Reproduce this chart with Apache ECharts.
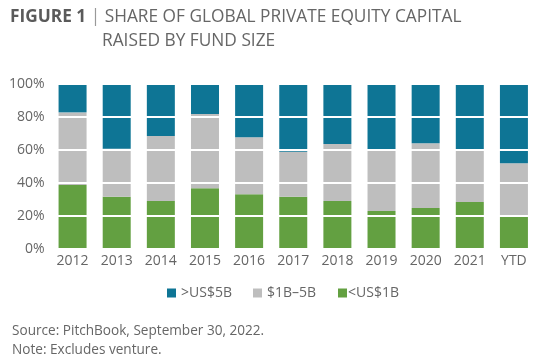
<!DOCTYPE html>
<html><head><meta charset="utf-8">
<script src="https://cdn.jsdelivr.net/npm/echarts@6/dist/echarts.min.js"></script>
<style>html,body{margin:0;padding:0;background:#fff}#c{width:542px;height:364px}</style>
</head><body><div id="c"></div>
<script>
const categories = ['2012','2013','2014','2015','2016','2017','2018','2019','2020','2021','YTD'];
const under1B = [38.8,31.7,29.1,36.8,33.2,31.7,29.1,23.0,24.8,28.5,20.0];
const mid1to5B = [44.0,29.1,39.4,45.0,34.5,27.3,34.5,37.6,39.3,31.3,31.9];
const over5B = [17.2,39.2,31.5,18.2,32.3,41.0,36.4,39.4,35.9,40.2,48.1];
const yTicks = [0,20,40,60,80,100];
const seriesNames = ['>US$5B','$1B\u20135B','<US$1B'];
const colors = {blue:'#0e7595', gray:'#bebebe', green:'#63a041'};
const font = '"Open Sans", "Noto Sans", sans-serif';
const txt = '#666666';

const legendText = {fontFamily:font,fontSize:14,color:txt};
const chart = echarts.init(document.getElementById('c'), null, {renderer:'canvas'});
chart.setOption({
  backgroundColor:'#fff',
  animation:false,
  title:[
    {left:10, top:9, padding:0, text:'{b|FIGURE 1} {l||} SHARE OF GLOBAL PRIVATE EQUITY CAPITAL',
     textStyle:{fontFamily:font, fontSize:17.3, fontWeight:'normal', color:txt,
       rich:{b:{fontFamily:font,fontSize:17.3,fontWeight:'bold',color:'#5a5a5a'},l:{fontFamily:font,fontSize:17.3,color:'#999999'}}}},
    {left:102, top:33, padding:0, text:'RAISED BY FUND SIZE', textStyle:{fontFamily:font,fontSize:17.3,fontWeight:'normal',color:txt}},
    {left:12, top:322, padding:0, text:'Source: PitchBook, September 30, 2022.\nNote: Excludes venture.',
     textStyle:{fontFamily:font,fontSize:13.6,fontWeight:'normal',color:txt,lineHeight:19}}
  ],
  legend:[
    {top:286, left:167, padding:0, icon:'rect', itemWidth:9, itemHeight:9, textStyle:legendText, data:[seriesNames[0]]},
    {top:286, left:253, padding:0, icon:'rect', itemWidth:9, itemHeight:9, textStyle:legendText, data:[seriesNames[1]]},
    {top:286, left:338, padding:0, icon:'rect', itemWidth:9, itemHeight:9, textStyle:Object.assign({padding:[0,0,0,-4]},legendText), data:[seriesNames[2]]}
  ],
  grid:{left:50.5, right:6, top:84, bottom:115},
  xAxis:{type:'category', data:categories,
    axisLine:{show:false}, axisTick:{show:false},
    axisLabel:{fontFamily:font,fontSize:14,color:txt,margin:5}},
  yAxis:{type:'value', min:0, max:100, interval:20, z:10,
    axisLine:{show:false}, axisTick:{show:false},
    splitLine:{show:true, lineStyle:{color:'#ffffff', width:2}},
    axisLabel:{fontFamily:font,fontSize:14,color:txt,margin:6,formatter:v=>v+'%'}},
  series:[
    {name:seriesNames[2], type:'bar', stack:'s', data:under1B, barWidth:28, itemStyle:{color:colors.green}},
    {name:seriesNames[1], type:'bar', stack:'s', data:mid1to5B, barWidth:28, itemStyle:{color:colors.gray}},
    {name:seriesNames[0], type:'bar', stack:'s', data:over5B, barWidth:28, itemStyle:{color:colors.blue}}
  ]
});
</script></body></html>
